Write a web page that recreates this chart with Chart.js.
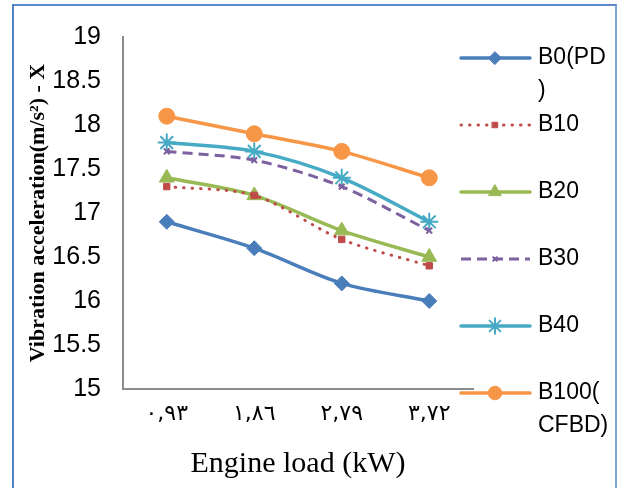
<!DOCTYPE html>
<html>
<head>
<meta charset="utf-8">
<title>Vibration acceleration vs engine load</title>
<script src="https://cdn.jsdelivr.net/npm/chart.js@4.4.1/dist/chart.umd.min.js"></script>
<style>
    html, body { margin: 0; padding: 0; background: #fff; overflow: hidden; }
    .chart-wrap { position: relative; width: 620px; height: 488px; }
    .chart-wrap canvas { position: absolute; left: 0; top: 0; }
    .frame {
        position: absolute; left: 12px; top: 4px; width: 601px; height: 500px;
        border-left: 2px solid #4f7fc4; border-top: 2px solid #5b89c9; border-right: 2px solid #7ea3d6;
    }
</style>
</head>
<body>
<div class="chart-wrap">
    <canvas id="vibrationChart" width="620" height="488"></canvas>
    <div class="frame"></div>
</div>
<script>
// engine load steps (kW), labelled in Arabic-Indic digits
const loadLabels = ['٠,٩٣', '١,٨٦', '٢,٧٩', '٣,٧٢'];

const seriesNames = ['B0(PD\n)', 'B10', 'B20', 'B30', 'B40', 'B100(\nCFBD)'];

// vibration acceleration (m/s²) per blend
const b0 = [16.9, 16.6, 16.2, 16.0];
const b10 = [17.3, 17.2, 16.7, 16.4];
const b20 = [17.4, 17.2, 16.8, 16.5];
const b30 = [17.7, 17.6, 17.3, 16.8];
const b40 = [17.8, 17.7, 17.4, 16.9];
const b100 = [18.1, 17.9, 17.7, 17.4];

const yMin = 15;
const yMax = 19;
const yStep = 0.5;

document.addEventListener('DOMContentLoaded', function() {

    const makeSeries = (label, data, color, extra) => {
        return Object.assign({
            label: label,
            data: data,
            borderColor: color,
            backgroundColor: color,
            pointBackgroundColor: color,
            pointBorderColor: color,
            borderWidth: 3.5,
            tension: 0.3,
            fill: false,
            pointBorderWidth: 1,
            pointHoverRadius: 0
        }, extra);
    };

    // hand drawn legend on the right, lines wrap like the source sheet
    const sideLegend = {
        id: 'sideLegend',
        afterDraw(chart) {
            const ctx = chart.ctx;
            const x0 = 461, x1 = 530, mx = 495, tx = 538;
            ctx.save();
            chart.data.datasets.forEach((ds, i) => {
                const y = 58 + i * 67;
                ctx.strokeStyle = ds.borderColor;
                ctx.lineWidth = ds.borderWidth;
                ctx.lineCap = ds.borderCapStyle || 'round';
                ctx.setLineDash(ds.borderDash || []);
                ctx.beginPath();
                ctx.moveTo(x0, y);
                ctx.lineTo(x1, y);
                ctx.stroke();
                ctx.setLineDash([]);
                ctx.fillStyle = ds.pointBackgroundColor;
                ctx.strokeStyle = ds.pointBorderColor;
                ctx.lineWidth = ds.pointBorderWidth;
                Chart.helpers.drawPoint(ctx, {
                    pointStyle: ds.pointStyle,
                    radius: ds.pointRadius * 0.85,
                    borderWidth: ds.pointBorderWidth,
                    rotation: 0
                }, mx, y);
                ctx.fillStyle = '#000';
                ctx.font = '23px "Liberation Sans", Arial, sans-serif';
                ctx.textAlign = 'left';
                ctx.textBaseline = 'middle';
                ds.label.split('\n').forEach((line, j) => {
                    ctx.fillText(line, tx, y + j * 33);
                });
            });
            ctx.restore();
        }
    };

    const ctx = document.getElementById('vibrationChart').getContext('2d');
    new Chart(ctx, {
        type: 'line',
        data: {
            labels: loadLabels,
            datasets: [
                makeSeries(seriesNames[0], b0, '#4a7ebb', { pointStyle: 'rectRot', pointRadius: 7.5 }),
                makeSeries(seriesNames[1], b10, '#be4b48', {
                    borderWidth: 3, borderDash: [0.5, 8], borderCapStyle: 'round',
                    pointStyle: 'rect', pointRadius: 4.5
                }),
                makeSeries(seriesNames[2], b20, '#98b954', { pointStyle: 'triangle', pointRadius: 8.5 }),
                makeSeries(seriesNames[3], b30, '#7d60a0', {
                    borderWidth: 3, borderDash: [10, 6], borderCapStyle: 'butt',
                    pointStyle: 'crossRot', pointRadius: 4, pointBorderWidth: 2
                }),
                makeSeries(seriesNames[4], b40, '#46aac5', { pointStyle: 'star', pointRadius: 9, pointBorderWidth: 2 }),
                makeSeries(seriesNames[5], b100, '#f79646', { pointStyle: 'circle', pointRadius: 8 })
            ]
        },
        options: {
            responsive: false,
            animation: false,
            events: [],
            layout: {
                padding: { left: 14, top: 21, right: 147, bottom: 0 }
            },
            plugins: {
                legend: { display: false },
                tooltip: { enabled: false },
                title: { display: false }
            },
            scales: {
                x: {
                    offset: true,
                    grid: { display: false, drawTicks: false },
                    border: { display: true, color: '#8c8c8c', width: 2 },
                    ticks: {
                        color: '#000',
                        padding: 12,
                        font: { family: '"DejaVu Sans", sans-serif', size: 22 }
                    },
                    title: {
                        display: true,
                        text: 'Engine load (kW)',
                        color: '#000',
                        padding: { top: 0, bottom: 6 },
                        font: { family: '"Liberation Serif", "Times New Roman", serif', size: 30 }
                    },
                    afterFit: function(scale) {
                        scale.height = 99;
                    }
                },
                y: {
                    min: yMin,
                    max: yMax,
                    grid: { display: false, drawTicks: false },
                    border: { display: true, color: '#8c8c8c', width: 2 },
                    ticks: {
                        stepSize: yStep,
                        color: '#000',
                        padding: 22,
                        font: { family: '"Liberation Sans", Arial, sans-serif', size: 25 },
                        callback: function(value) {
                            return String(value);
                        }
                    },
                    title: {
                        display: true,
                        text: 'Vibration acceleration(m/s²) - X',
                        color: '#000',
                        padding: { top: 11, bottom: 0 },
                        font: { family: '"Liberation Serif", "Times New Roman", serif', size: 22, weight: 'bold' }
                    },
                    afterFit: function(scale) {
                        scale.width = 109;
                    }
                }
            }
        },
        plugins: [sideLegend]
    });
});
</script>
</body>
</html>
